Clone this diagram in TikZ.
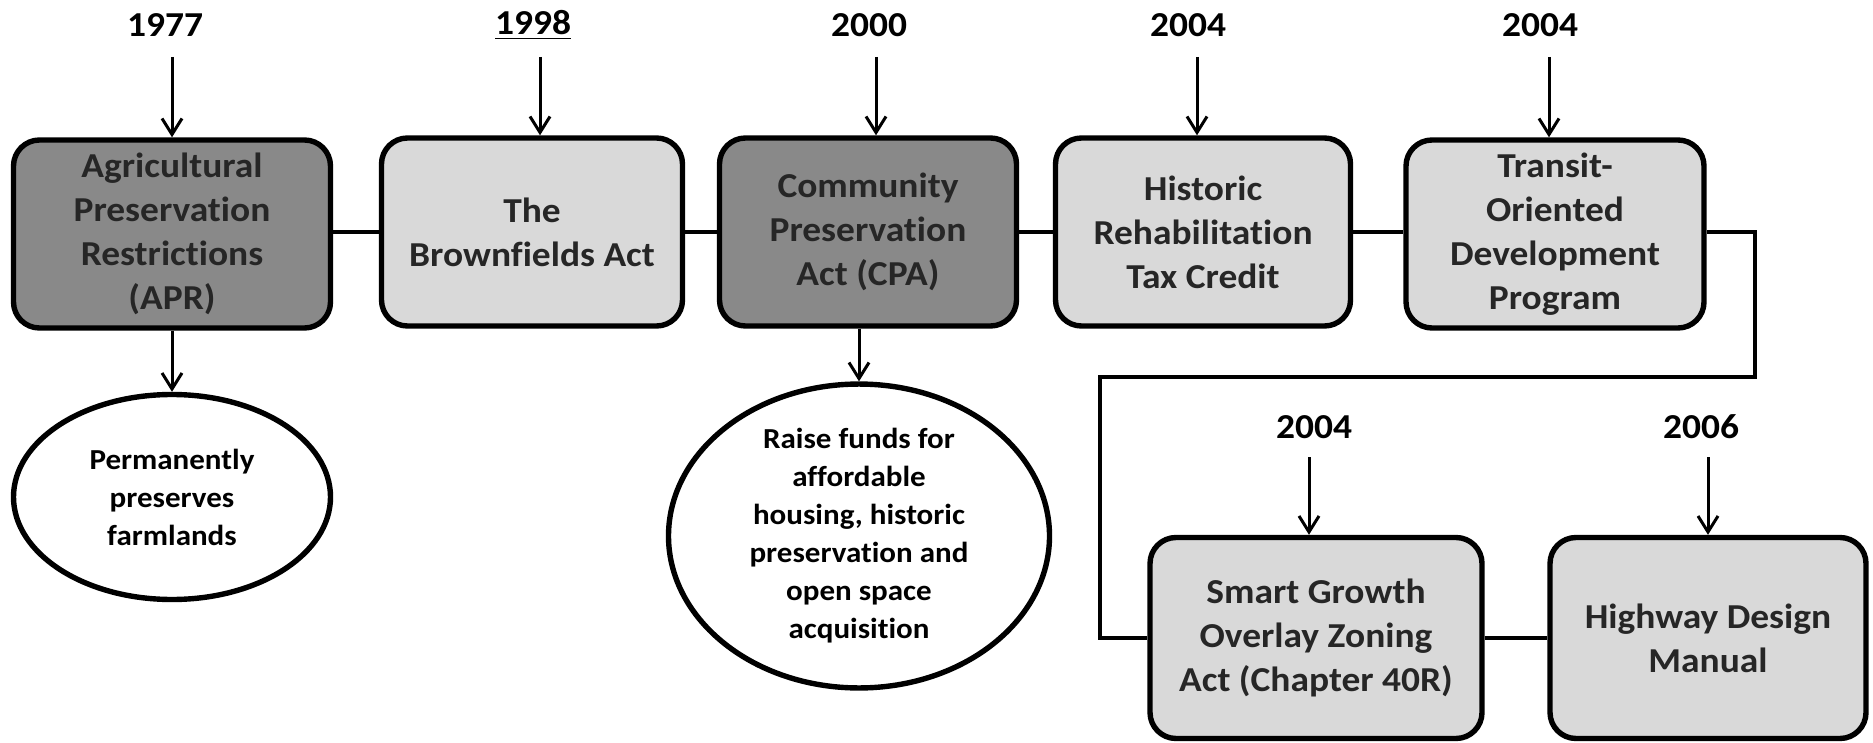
\documentclass[tikz,border=0pt]{standalone}
\usepackage{fontspec}
\setmainfont{Carlito}[Ligatures=NoCommon, FakeStretch=1.07]
\usetikzlibrary{arrows.meta,shapes.geometric}
\definecolor{darkfill}{HTML}{898989}
\definecolor{lightfill}{HTML}{D9D9D9}
\definecolor{boxtext}{HTML}{262626}
\begin{document}
\begin{tikzpicture}[x=0.5pt,y=-0.5pt,
  box/.style={draw=black, line width=2.7pt, rounded corners=13pt, minimum height=94pt,
    align=center, text=boxtext, font=\fontsize{17.5}{22}\selectfont\bfseries, inner sep=0pt},
  darkbox/.style={box, fill=darkfill},
  lightbox/.style={box, fill=lightfill},
  year/.style={font=\fontsize{17.5}{20}\selectfont\bfseries, inner sep=0pt},
  oval/.style={ellipse, draw=black, line width=2.7pt, fill=white, align=center,
    font=\fontsize{14.5}{19}\selectfont\bfseries, inner sep=0pt},
  arr/.style={line width=1.5pt, -{Straight Barb[length=8pt,width=10pt,line width=1.5pt]}},
  conn/.style={line width=2pt}]
\useasboundingbox (0,0) rectangle (1873,743);

% boxes
\node[darkbox, minimum width=158.5pt] (b1) at (172,234) {Agricultural\\Preservation\\Restrictions\\(APR)};
\node[lightbox, minimum width=150.5pt] (b2) at (532,232) {The\\Brownfields Act};
\node[darkbox, minimum width=148.5pt] (b3) at (868,232) {Community\\Preservation\\Act (CPA)};
\node[lightbox, minimum width=147.5pt] (b4) at (1203,232) {Historic\\Rehabilitation\\Tax Credit};
\node[lightbox, minimum width=149pt] (b5) at (1555,234) {Transit-\\Oriented\\Development\\Program};
\node[lightbox, minimum width=166pt, minimum height=100.5pt] (b6) at (1316,638) {Smart Growth\\Overlay Zoning\\Act (Chapter 40R)};
\node[lightbox, minimum width=158pt, minimum height=100.5pt] (b7) at (1708,638) {Highway Design\\Manual};

% ellipses
\node[oval, minimum width=158.5pt, minimum height=102.5pt] (e1) at (172,497) {Permanently\\preserves\\farmlands};
\node[oval, minimum width=190.5pt, minimum height=141.5pt] (e2) at (859,536) {Raise funds for\\affordable\\housing, historic\\preservation and\\open space\\acquisition};

% years
\node[year] (y1) at (165,25) {1977};
\node[year] (y2) at (533,25) {\underline{1998}};
\node[year] (y3) at (869,25) {2000};
\node[year] (y4) at (1188,25) {2004};
\node[year] (y5) at (1540,25) {2004};
\node[year] (y6) at (1314,427) {2004};
\node[year] (y7) at (1701,427) {2006};

% arrow starts
\coordinate (a1) at (172,57);
\coordinate (a2) at (540,57);
\coordinate (a3) at (876,57);
\coordinate (a4) at (1197,57);
\coordinate (a5) at (1549,57);
\coordinate (a6) at (1309,457);
\coordinate (a7) at (1708,457);

\draw[arr] (a1) -- (a1 |- b1.north);
\draw[arr] (a2) -- (a2 |- b2.north);
\draw[arr] (a3) -- (a3 |- b3.north);
\draw[arr] (a4) -- (a4 |- b4.north);
\draw[arr] (a5) -- (a5 |- b5.north);
\draw[arr] (a6) -- (a6 |- b6.north);
\draw[arr] (a7) -- (a7 |- b7.north);

\draw[arr] (b1.south) -- (e1.north);
\draw[arr] (b3.south -| e2.north) -- (e2.north);

% connectors
\coordinate (t0) at (1755,232);
\coordinate (t1) at (1755,377);
\coordinate (t2) at (1100,377);
\draw[conn] (b1.east |- b2.west) -- (b2.west);
\draw[conn] (b2.east) -- (b3.west);
\draw[conn] (b3.east) -- (b4.west);
\draw[conn] (b4.east) -- (b4.east -| b5.west);
\draw[conn] (b5.east |- t0) -- (t0) -- (t1) -- (t2) |- (b6.west);
\draw[conn] (b6.east) -- (b7.west);
\end{tikzpicture}
\end{document}
